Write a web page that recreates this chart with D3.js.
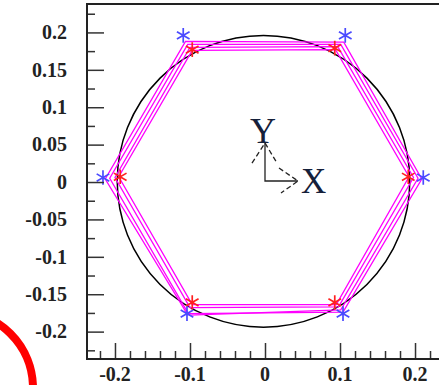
<!DOCTYPE html>
<html>
<head>
<meta charset="utf-8">
<script src="https://cdn.jsdelivr.net/npm/d3@7"></script>
<style>
  body { margin: 0; background: #fff; }
  .tickLabel { font-family: "Liberation Serif", serif; font-weight: bold; font-size: 20px; fill: #222; }
</style>
</head>
<body>
<div id="chart"></div>
<script>
// values
let xMajorTicks = [-0.2, -0.1, 0, 0.1, 0.2];
let xMinorTicks = [-0.22, -0.18, -0.16, -0.14, -0.12, -0.08, -0.06, -0.04, -0.02,
                   0.02, 0.04, 0.06, 0.08, 0.12, 0.14, 0.16, 0.18, 0.22];
let yMajorTicks = [-0.2, -0.15, -0.1, -0.05, 0, 0.05, 0.1, 0.15, 0.2];
let yMinorTicks = [-0.225, -0.175, -0.125, -0.075, -0.025, 0.025, 0.075, 0.125, 0.175, 0.225];

// reference circle: centre and radius
let circleCenter = [-0.002, 0.001];
let circleRadius = 0.195;

// star markers
let blueStars = [[-0.109, 0.196], [0.107, 0.196], [0.211, 0.006],
                 [0.104, -0.176], [-0.104, -0.176], [-0.216, 0.006]];
let redStars = [[-0.097, 0.177], [0.093, 0.179], [0.191, 0.007],
                [0.093, -0.161], [-0.097, -0.161], [-0.193, 0.007]];

// magenta hexagons
let hex1 = [[-0.106, 0.188], [0.105, 0.187], [0.209, 0.004], [0.104, -0.174], [-0.104, -0.176], [-0.213, 0.004]];
let hex2 = [[-0.103, 0.184], [0.101, 0.184], [0.204, 0.005], [0.101, -0.171], [-0.101, -0.178], [-0.207, 0.005]];
let hex3 = [[-0.100, 0.180], [0.097, 0.181], [0.198, 0.006], [0.098, -0.167], [-0.100, -0.168], [-0.200, 0.006]];
let hex4 = [[-0.097, 0.176], [0.094, 0.177], [0.192, 0.007], [0.095, -0.164], [-0.097, -0.164], [-0.195, 0.007]];
let hexagons = [hex1, hex2, hex3, hex4];

let svgWidth = 439;
let svgHeight = 385;
let margin = { top: 4, left: 87 };
let plot_width = 356;
let plot_height = 355;

let svg = d3.select("#chart")
  .append("svg")
  .attr("width", svgWidth)
  .attr("height", svgHeight);

let chartGroup = svg.append("g")
  .attr("transform", `translate(${margin.left}, ${margin.top})`);

let xScale = d3.scaleLinear()
  .domain([-0.2373, 0.2373])
  .range([0, plot_width]);

let yScale = d3.scaleLinear()
  .domain([-0.2366, 0.238])
  .range([plot_height, 0]);

// circle
chartGroup.append("ellipse")
  .attr("cx", xScale(circleCenter[0]))
  .attr("cy", yScale(circleCenter[1]))
  .attr("rx", xScale(circleRadius) - xScale(0))
  .attr("ry", yScale(0) - yScale(circleRadius))
  .attr("fill", "none")
  .attr("stroke", "#000")
  .attr("stroke-width", 1.5);

// hexagons
let line = d3.line()
  .x(d => xScale(d[0]))
  .y(d => yScale(d[1]))
  .curve(d3.curveLinearClosed);

chartGroup.selectAll(".hex")
  .data(hexagons)
  .enter()
  .append("path")
  .attr("class", "hex")
  .attr("d", line)
  .attr("fill", "none")
  .attr("stroke", "#ff00ff")
  .attr("stroke-width", 1.3);

// stars
let star = d3.symbol().type(d3.symbolAsterisk).size(150);

chartGroup.selectAll(".red")
  .data(redStars)
  .enter()
  .append("path")
  .attr("class", "red")
  .attr("d", star)
  .attr("transform", d => `translate(${xScale(d[0])}, ${yScale(d[1])})`)
  .attr("fill", "none")
  .attr("stroke", "#ff2020")
  .attr("stroke-width", 1.7);

chartGroup.selectAll(".blue")
  .data(blueStars)
  .enter()
  .append("path")
  .attr("class", "blue")
  .attr("d", star)
  .attr("transform", d => `translate(${xScale(d[0])}, ${yScale(d[1])})`)
  .attr("fill", "none")
  .attr("stroke", "#4a4aff")
  .attr("stroke-width", 1.7);

// axes, ticks point inward
let bottomAxis = d3.axisTop(xScale).tickValues(xMajorTicks).tickSize(16).tickFormat("");
let bottomMinor = d3.axisTop(xScale).tickValues(xMinorTicks).tickSize(8).tickFormat("");
let leftAxis = d3.axisRight(yScale).tickValues(yMajorTicks).tickSize(17).tickFormat("");
let leftMinor = d3.axisRight(yScale).tickValues(yMinorTicks).tickSize(8).tickFormat("");

[bottomAxis, bottomMinor].forEach(ax => {
  chartGroup.append("g")
    .attr("transform", `translate(0, ${plot_height})`)
    .call(ax)
    .call(g => g.select(".domain").remove())
    .call(g => g.selectAll("line").attr("stroke", "#333").attr("stroke-width", 1.5));
});
[leftAxis, leftMinor].forEach(ax => {
  chartGroup.append("g")
    .call(ax)
    .call(g => g.select(".domain").remove())
    .call(g => g.selectAll("line").attr("stroke", "#333").attr("stroke-width", 1.5));
});

// frame
chartGroup.append("path")
  .attr("d", `M${plot_width},0H0V${plot_height}H${plot_width}`)
  .attr("fill", "none")
  .attr("stroke", "#222")
  .attr("stroke-width", 2);

// tick labels
chartGroup.selectAll(".xlab")
  .data(xMajorTicks)
  .enter()
  .append("text")
  .attr("class", "tickLabel")
  .attr("x", d => xScale(d))
  .attr("y", plot_height + 22)
  .attr("text-anchor", "middle")
  .text(d => d3.format("")(d).replace("−", "-"));

chartGroup.selectAll(".ylab")
  .data(yMajorTicks)
  .enter()
  .append("text")
  .attr("class", "tickLabel")
  .attr("x", -20)
  .attr("y", d => yScale(d))
  .attr("dy", "0.34em")
  .attr("text-anchor", "end")
  .text(d => d3.format("")(d).replace("−", "-"));

// coordinate triad at the origin
let ox = xScale(0), oy = yScale(0);
let triad = chartGroup.append("g").attr("transform", `translate(${ox}, ${oy - 1})`)
  .attr("fill", "none").attr("stroke", "#222").attr("stroke-width", 1.3);
triad.append("path").attr("d", "M0,-38V0H33");
triad.append("path").attr("d", "M-13,-18L0,-38L12,-18").attr("stroke-dasharray", "5,3");
triad.append("path").attr("d", "M14,-13L33,0L16,12").attr("stroke-dasharray", "5,3");

chartGroup.append("text")
  .attr("x", ox - 2)
  .attr("y", oy - 39)
  .attr("text-anchor", "middle")
  .style("font-family", "Liberation Serif, serif")
  .style("font-size", "36px")
  .attr("fill", "#15203a")
  .text("Y");

chartGroup.append("text")
  .attr("x", ox + 36)
  .attr("y", oy + 11)
  .style("font-family", "Liberation Serif, serif")
  .style("font-size", "35px")
  .attr("fill", "#15203a")
  .text("X");

// red annotation arc in the corner
svg.append("circle")
  .attr("cx", -44)
  .attr("cy", 388)
  .attr("r", 77)
  .attr("fill", "none")
  .attr("stroke", "#ff0000")
  .attr("stroke-width", 8);
</script>
</body>
</html>
